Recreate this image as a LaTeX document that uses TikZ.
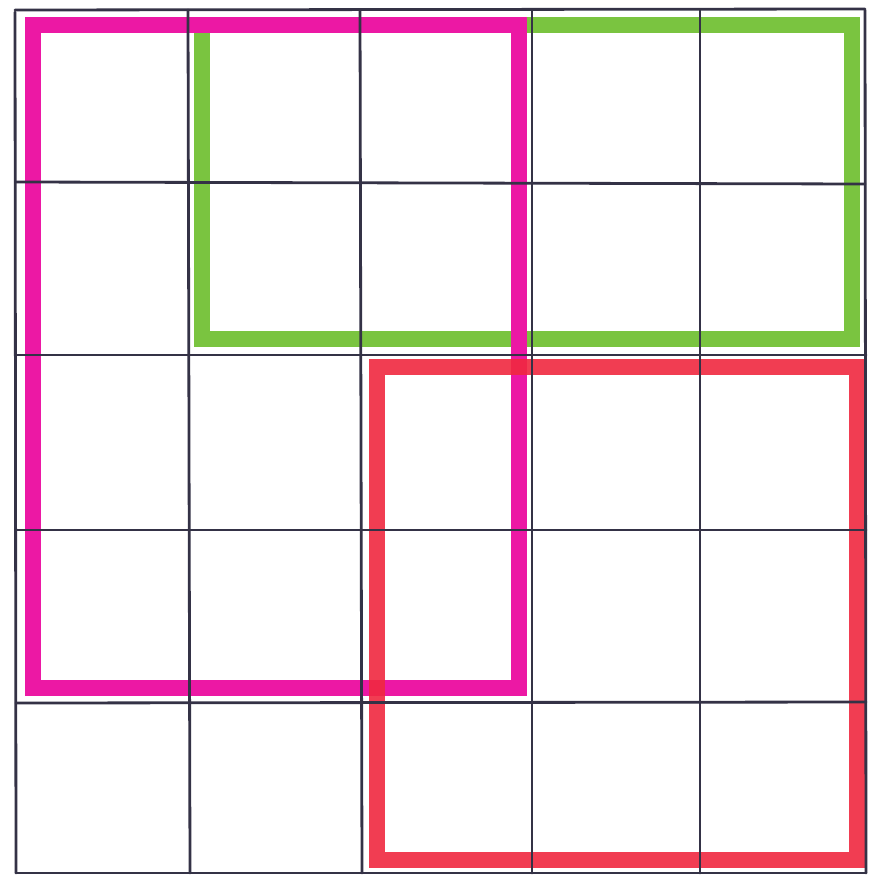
\documentclass[tikz,border=0pt]{standalone}
\usepackage{tikz}

\definecolor{penline}{RGB}{52,50,70}
\definecolor{markmagenta}{RGB}{236,24,164}
\definecolor{markgreen}{RGB}{122,196,64}
\definecolor{markred}{RGB}{240,40,64}

\tikzset{every picture/.style={line width=0.9pt}}
\tikzset{gridline/.style={draw=penline, line width=2.8pt, line cap=round},
         marker/.style={line width=16pt, line join=miter}}

\begin{document}
\begin{tikzpicture}[x=1pt,y=1pt,yscale=-1]
\useasboundingbox[fill=white] (0,0) rectangle (872,877);
%Rectangle green [id:green]
\draw [marker, draw=markgreen]  (202,25) rectangle (852,339) ;
%Rectangle magenta [id:magenta]
\draw [marker, draw=markmagenta]  (33,25) rectangle (519,688) ;
%Rectangle red [id:red]
\draw [marker, draw=markred, opacity=0.9]  (377,367) rectangle (857,860) ;
%Straight Lines vertical [id:grid-v]
\draw [gridline]  (15,12) -- (16,873) ;
\draw [gridline]  (188,10) -- (190,873) ;
\draw [gridline]  (360,10) -- (362,873) ;
\draw [gridline]  (532,10) -- (532,873) ;
\draw [gridline]  (700,10) -- (700,873) ;
\draw [gridline]  (865,10) -- (866,873) ;
%Straight Lines horizontal [id:grid-h]
\draw [gridline]  (15,10) -- (865,9) ;
\draw [gridline]  (16,182) -- (865,184) ;
\draw [gridline]  (16,355) -- (866,355) ;
\draw [gridline]  (16,530) -- (866,530) ;
\draw [gridline]  (16,703) -- (866,702) ;
\draw [gridline]  (16,873) -- (866,873) ;
\end{tikzpicture}
\end{document}
